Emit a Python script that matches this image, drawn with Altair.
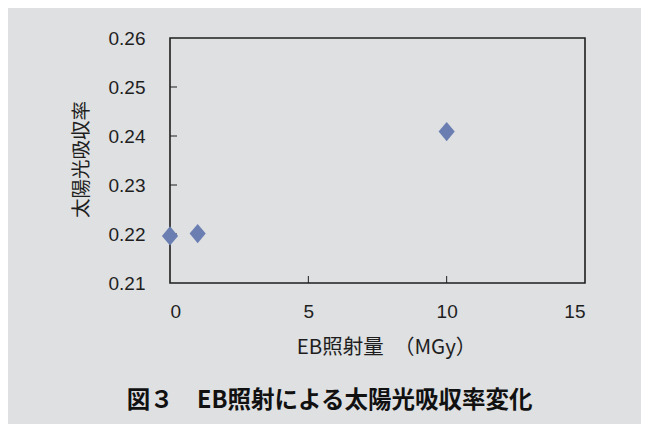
import altair as alt
import pandas as pd

dose = [0, 1, 10]
absorptance = [0.2196, 0.2201, 0.2409]
x_ticks = [5, 10]
y_ticks = [0.22, 0.23, 0.24, 0.25]

W, H = 415, 245
BG = "#dfe0e2"
FG = "#1e1e1e"

pts = pd.DataFrame({"dose": dose, "a": absorptance})
xt = pd.DataFrame({"t": x_ticks})
yt = pd.DataFrame({"t": y_ticks})

xscale = alt.Scale(domain=[0, 15], nice=False)
yscale = alt.Scale(domain=[0.21, 0.26], nice=False, zero=False)

points = alt.Chart(pts).mark_point(
    shape="M0,-1L0.84,0L0,1L-0.84,0Z", filled=True, opacity=1, color="#6a7eb2", size=370
).encode(
    x=alt.X("dose:Q", scale=xscale, axis=alt.Axis(
        values=[0, 5, 10, 15], title="EB照射量　（MGy）", grid=False, domain=False,
        ticks=False, tickSize=0, labelPadding=19, labelFontSize=19, labelFont="Liberation Sans",
        labelColor=FG, titleFont="Noto Sans CJK JP", titleFontSize=20.5, titleFontWeight="normal",
        titleColor=FG, titleX=216, titleY=64, titleBaseline="middle")),
    y=alt.Y("a:Q", scale=yscale, axis=alt.Axis(
        values=[0.21, 0.22, 0.23, 0.24, 0.25, 0.26], format=".2f", title="太陽光吸収率",
        grid=False, domain=False, ticks=False, tickSize=0, labelPadding=25, labelFontSize=19,
        labelFont="Liberation Sans", labelColor=FG, titleFont="Noto Sans CJK JP",
        titleFontSize=19.5, titleFontWeight="normal", titleColor=FG, titleX=-89, titleY=121,
        titleBaseline="middle", titleAngle=-90)),
)

xticks = alt.Chart(xt).mark_rule(color=FG, strokeWidth=1).encode(
    x=alt.X("t:Q", scale=xscale), y=alt.value(H), y2=alt.value(H - 7))
yticks = alt.Chart(yt).mark_rule(color=FG, strokeWidth=1).encode(
    y=alt.Y("t:Q", scale=yscale), x=alt.value(0), x2=alt.value(7))

chart = alt.layer(xticks, yticks, points).properties(
    width=W, height=H,
    autosize=alt.AutoSizeParams(type="none"),
    padding={"left": 162, "top": 30, "right": 56, "bottom": 141},
    background=BG,
    title=alt.TitleParams(
        "図３　EB照射による太陽光吸収率変化", orient="bottom", anchor="middle",
        font="Noto Sans CJK JP", fontSize=23.5, fontWeight="bold", color="#111",
        dx=-48, offset=31),
).configure_view(stroke=FG, strokeWidth=1.6, fill=BG)

chart.save("out.html", embed_options={"renderer": "svg", "actions": False})
